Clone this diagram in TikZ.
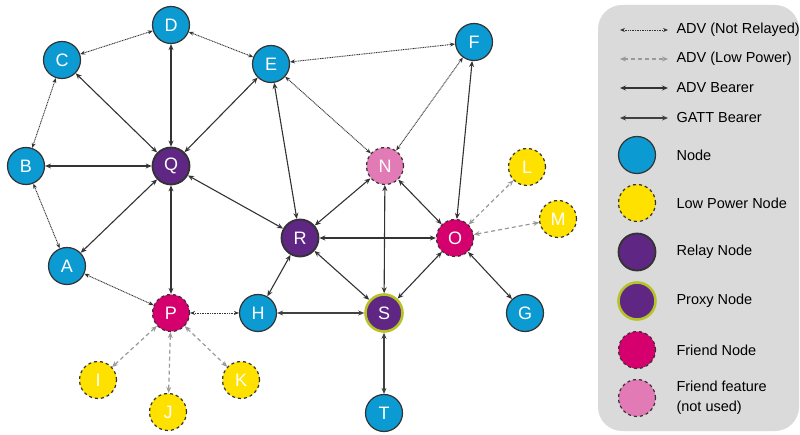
\documentclass[tikz,border=0pt]{standalone}
\usepackage{fontspec}
\setmainfont{Liberation Sans}
\usetikzlibrary{arrows.meta}
\definecolor{meshblue}{HTML}{0B9BD2}
\definecolor{meshyellow}{HTML}{FFE100}
\definecolor{meshpurple}{HTML}{5F2683}
\definecolor{meshmagenta}{HTML}{D5006D}
\definecolor{meshpink}{HTML}{E27BB5}
\definecolor{meshlime}{HTML}{B4C424}
\definecolor{panelgray}{HTML}{DADADA}

\begin{document}
\begin{tikzpicture}[x=1pt,y=-1pt,
  every node/.style={font=\fontsize{14.5}{20}\selectfont},
  dev/.style={circle,minimum size=37pt,inner sep=0pt,draw=black!80,line width=1.2pt,
    text=white,font=\fontsize{18}{18}\selectfont},
  plainnode/.style={dev,fill=meshblue},
  lpn/.style={dev,fill=meshyellow,dashed},
  relay/.style={dev,fill=meshpurple,line width=1.8pt},
  proxy/.style={dev,fill=meshpurple,draw=meshlime,line width=2.6pt},
  friend/.style={dev,fill=meshmagenta,dashed},
  unused/.style={dev,fill=meshpink,dashed},
  nrel/.style={{Stealth[length=5pt,width=4pt]}-{Stealth[length=5pt,width=4pt]},
    draw=black!80,line width=0.9pt,dash pattern=on 1pt off 0.7pt},
  lowp/.style={{Stealth[length=6pt,width=5pt]}-{Stealth[length=6pt,width=5pt]},
    draw=black!40,line width=1.2pt,dash pattern=on 4pt off 3pt},
  adv/.style={{Stealth[length=6pt,width=5pt]}-{Stealth[length=6pt,width=5pt]},
    draw=black!80,line width=1.1pt},
  gatt/.style={{Stealth[length=6pt,width=5pt]}-{Stealth[length=6pt,width=5pt]},
    draw=black!75,line width=2pt}]
\useasboundingbox (0,0) rectangle (800,435);

% legend panel
\fill[panelgray,rounded corners=24pt] (598,5) rectangle (799,431);

% devices
\node[plainnode] (D) at (171,25) {D};
\node[plainnode] (C) at (62,60) {C};
\node[plainnode] (E) at (271,64) {E};
\node[plainnode] (F) at (474,42) {F};
\node[plainnode] (B) at (26,166) {B};
\node[relay] (Q) at (171,166) {Q};
\node[unused] (N) at (385,166) {N};
\node[lpn] (L) at (527,167) {L};
\node[plainnode] (A) at (67,266) {A};
\node[relay] (R) at (300,238) {R};
\node[friend] (O) at (455,238) {O};
\node[lpn] (M) at (558,219) {M};
\node[friend] (P) at (171,313) {P};
\node[plainnode] (H) at (258,313) {H};
\node[proxy] (S) at (384,313) {S};
\node[plainnode] (G) at (525,313) {G};
\node[lpn] (I) at (98,380) {I};
\node[lpn] (J) at (168,412) {J};
\node[lpn] (K) at (241,380) {K};
\node[plainnode] (T) at (384,413) {T};

% not relayed
\draw[nrel] (C) -- (D);
\draw[nrel] (D) -- (E);
\draw[nrel] (C) -- (B);
\draw[nrel] (B) -- (A);
\draw[nrel] (A) -- (P);
\draw[nrel] (P) -- (H);
\draw[nrel] (E) -- (F);
\draw[nrel] (E) -- (N);
\draw[nrel] (F) -- (N);

% low power
\draw[lowp] (O) -- (L);
\draw[lowp] (O) -- (M);
\draw[lowp] (P) -- (I);
\draw[lowp] (P) -- (J);
\draw[lowp] (P) -- (K);

% adv bearer
\draw[adv] (Q) -- (B);
\draw[adv] (Q) -- (C);
\draw[adv] (Q) -- (D);
\draw[adv] (Q) -- (E);
\draw[adv] (Q) -- (A);
\draw[adv] (Q) -- (P);
\draw[adv] (Q) -- (R);
\draw[adv] (E) -- (R);
\draw[adv] (F) -- (O);
\draw[adv] (R) -- (N);
\draw[adv] (R) -- (O);
\draw[adv] (R) -- (S);
\draw[adv] (R) -- (H);
\draw[adv] (N) -- (S);
\draw[adv] (N) -- (O);
\draw[adv] (O) -- (S);
\draw[adv] (O) -- (G);

% gatt bearer
\draw[gatt] (H) -- (S);
\draw[gatt] (S) -- (T);

% legend
\coordinate (l1a) at (620,30); \coordinate (l1b) at (668,30);
\coordinate (l2a) at (620,59); \coordinate (l2b) at (668,59);
\coordinate (l3a) at (620,88); \coordinate (l3b) at (668,88);
\coordinate (l4a) at (620,118); \coordinate (l4b) at (668,118);
\draw[nrel] (l1a) -- (l1b);
\draw[lowp] (l2a) -- (l2b);
\draw[adv] (l3a) -- (l3b);
\draw[gatt] (l4a) -- (l4b);
\node[anchor=west] (t1) at (673,30) {ADV (Not Relayed)};
\node[anchor=west] (t2) at (673,59) {ADV (Low Power)};
\node[anchor=west] (t3) at (673,88) {ADV Bearer};
\node[anchor=west] (t4) at (673,118) {GATT Bearer};

\node[plainnode] (k1) at (637,155) {};
\node[lpn] (k2) at (637,203) {};
\node[relay] (k3) at (637,252) {};
\node[proxy] (k4) at (637,301) {};
\node[friend] (k5) at (637,350) {};
\node[unused] (k6) at (637,398) {};
\node[anchor=west] (t5) at (673,155) {Node};
\node[anchor=west] (t6) at (673,203) {Low Power Node};
\node[anchor=west] (t7) at (673,252) {Relay Node};
\node[anchor=west] (t8) at (673,301) {Proxy Node};
\node[anchor=west] (t9) at (673,350) {Friend Node};
\node[anchor=west,align=left] (t10) at (673,398) {Friend feature\\(not used)};
\end{tikzpicture}
\end{document}
